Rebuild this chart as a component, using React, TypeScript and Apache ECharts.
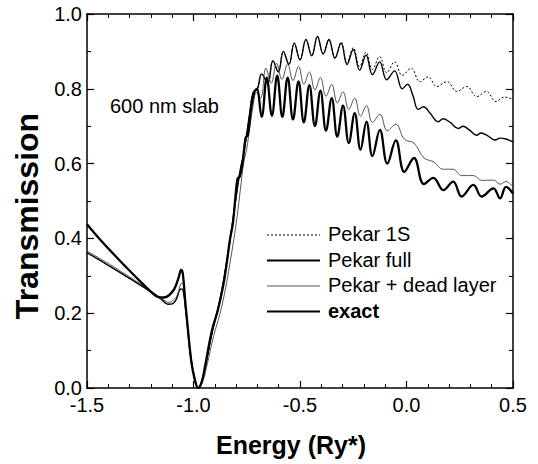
import React, { useEffect, useRef } from "react";
import * as echarts from "echarts";

// Energy (Ry*) and transmission values
const pekar1S_E = [-1.5, -1.4, -1.3, -1.2, -1.15, -1.12, -1.1, -1.08, -1.065, -1.055, -1.035, -1.015, -0.995, -0.978, -0.96, -0.94, -0.91, -0.88, -0.855, -0.835, -0.815, -0.795, -0.78, -0.765, -0.75, -0.735, -0.72, -0.70,
  -0.68, -0.652, -0.627, -0.602, -0.578, -0.552, -0.527, -0.50, -0.472, -0.445, -0.418, -0.391, -0.364, -0.336, -0.307, -0.279, -0.25, -0.22, -0.19, -0.16, -0.126, -0.093, -0.056, -0.02, 0.022, 0.063, 0.102, 0.142, 0.19, 0.236, 0.283, 0.33, 0.375, 0.42, 0.46, 0.5];
const pekar1S_T = [0.362, 0.328, 0.293, 0.257, 0.237, 0.224, 0.225, 0.238, 0.262, 0.265, 0.2, 0.09, 0.025, 0.0, 0.02, 0.07, 0.155, 0.225, 0.3, 0.37, 0.45, 0.53, 0.585, 0.625, 0.68, 0.74, 0.79, 0.8,
  0.84, 0.815, 0.875, 0.845, 0.9, 0.865, 0.922, 0.877, 0.932, 0.888, 0.94, 0.893, 0.932, 0.882, 0.925, 0.87, 0.91, 0.86, 0.898, 0.852, 0.886, 0.843, 0.872, 0.836, 0.855, 0.819, 0.832, 0.806, 0.819, 0.793, 0.806, 0.779, 0.793, 0.766, 0.778, 0.772];

const pekarFull_E = [-1.5, -1.4, -1.3, -1.2, -1.15, -1.12, -1.1, -1.08, -1.065, -1.055, -1.035, -1.015, -0.995, -0.978, -0.96, -0.94, -0.91, -0.88, -0.855, -0.835, -0.815, -0.795, -0.78, -0.765, -0.75, -0.735, -0.72, -0.70,
  -0.68, -0.652, -0.627, -0.602, -0.578, -0.552, -0.527, -0.50, -0.472, -0.445, -0.418, -0.391, -0.364, -0.336, -0.307, -0.279, -0.25, -0.22, -0.19, -0.16, -0.126, -0.093, -0.056, -0.02, 0.005, 0.03, 0.055, 0.08, 0.11, 0.149, 0.172, 0.205, 0.243, 0.265, 0.295, 0.329, 0.35, 0.38, 0.415, 0.44, 0.47, 0.5];
const pekarFull_T = [0.362, 0.328, 0.293, 0.257, 0.237, 0.224, 0.225, 0.238, 0.262, 0.265, 0.2, 0.09, 0.025, 0.0, 0.02, 0.07, 0.155, 0.225, 0.3, 0.37, 0.45, 0.53, 0.585, 0.625, 0.68, 0.74, 0.79, 0.8,
  0.84, 0.815, 0.875, 0.845, 0.9, 0.865, 0.922, 0.877, 0.932, 0.888, 0.94, 0.893, 0.932, 0.882, 0.922, 0.865, 0.905, 0.85, 0.89, 0.838, 0.872, 0.824, 0.848, 0.80, 0.812, 0.782, 0.745, 0.752, 0.735, 0.712, 0.72, 0.71, 0.694, 0.70, 0.69, 0.676, 0.682, 0.675, 0.663, 0.668, 0.665, 0.658];

const deadLayer_E = [-1.5, -1.4, -1.3, -1.2, -1.15, -1.116, -1.095, -1.075, -1.06, -1.05, -1.037, -1.015, -0.995, -0.975, -0.955, -0.935, -0.905, -0.875, -0.85, -0.83, -0.81, -0.795, -0.78, -0.765, -0.75, -0.735, -0.72, -0.705,
  -0.685, -0.66, -0.635, -0.61, -0.585, -0.558, -0.533, -0.507, -0.482, -0.456, -0.43, -0.404, -0.378, -0.351, -0.325, -0.298, -0.271, -0.243, -0.216, -0.188, -0.16, -0.125, -0.09, -0.05, -0.01, 0.035, 0.082, 0.126, 0.173, 0.219, 0.259, 0.314, 0.353, 0.408, 0.439, 0.467, 0.5];
const deadLayer_T = [0.366, 0.333, 0.297, 0.26, 0.24, 0.229, 0.235, 0.25, 0.278, 0.28, 0.21, 0.1, 0.03, 0.0, 0.02, 0.065, 0.14, 0.2, 0.265, 0.33, 0.4, 0.46, 0.53, 0.6, 0.64, 0.7, 0.755, 0.79,
  0.775, 0.855, 0.815, 0.868, 0.825, 0.866, 0.822, 0.86, 0.812, 0.845, 0.797, 0.83, 0.78, 0.812, 0.762, 0.792, 0.745, 0.775, 0.727, 0.755, 0.71, 0.732, 0.688, 0.705, 0.665, 0.655, 0.615, 0.605, 0.585, 0.585, 0.568, 0.568, 0.555, 0.556, 0.545, 0.552, 0.538];

const exact_E = [-1.5, -1.44, -1.35, -1.25, -1.19, -1.165, -1.14, -1.115, -1.09, -1.07, -1.058, -1.05, -1.04, -1.025, -1.01, -0.995, -0.978, -0.962, -0.945, -0.915, -0.885, -0.86, -0.845, -0.828, -0.815, -0.805, -0.793, -0.783, -0.77, -0.755, -0.745, -0.73, -0.715, -0.703,
  -0.68, -0.656, -0.632, -0.607, -0.583, -0.558, -0.533, -0.507, -0.482, -0.456, -0.43, -0.404, -0.378, -0.351, -0.325, -0.298, -0.271, -0.243, -0.216, -0.188, -0.16, -0.125, -0.09, -0.05, -0.01, 0.035, 0.082, 0.126, 0.173, 0.219, 0.259, 0.314, 0.353, 0.408, 0.439, 0.467, 0.5];
const exact_T = [0.438, 0.398, 0.343, 0.285, 0.252, 0.243, 0.242, 0.248, 0.265, 0.295, 0.316, 0.305, 0.24, 0.15, 0.07, 0.025, 0.0, 0.015, 0.06, 0.15, 0.21, 0.275, 0.33, 0.4, 0.44, 0.5, 0.56, 0.565, 0.6, 0.67, 0.675, 0.745, 0.79, 0.80,
  0.725, 0.83, 0.728, 0.835, 0.725, 0.83, 0.718, 0.82, 0.71, 0.81, 0.70, 0.795, 0.688, 0.775, 0.672, 0.755, 0.655, 0.735, 0.637, 0.712, 0.62, 0.69, 0.60, 0.662, 0.578, 0.615, 0.545, 0.562, 0.529, 0.552, 0.512, 0.543, 0.512, 0.534, 0.507, 0.538, 0.52];

const seriesNames = ["Pekar 1S", "Pekar full", "Pekar + dead layer", "exact"];
const FONT = "'Liberation Sans', Arial, Helvetica, sans-serif";

function pairs(e: number[], t: number[]) {
  const n = Math.min(e.length, t.length);
  const out: number[][] = [];
  for (let i = 0; i < n; i++) out.push([e[i], t[i]]);
  return out;
}

export default function App() {
  const ref = useRef<HTMLDivElement>(null);
  useEffect(() => {
    document.body.style.margin = "0";
    const chart = echarts.init(ref.current!, null, { renderer: "svg" });
    const axisCommon = {
      axisLine: { show: true, onZero: false, lineStyle: { color: "#000", width: 1.5 } },
      splitLine: { show: false },
    };
    const tick = { show: true, inside: true, length: 7, lineStyle: { color: "#000", width: 1.2 } };
    const legendStyles = [
      { stroke: "#000", lineWidth: 1, lineDash: [2, 2] },
      { stroke: "#000", lineWidth: 1.8 },
      { stroke: "#555", lineWidth: 1 },
      { stroke: "#000", lineWidth: 2.2 },
    ];
    const legendRows = seriesNames.map((name, i) => {
      const y = 234 + i * 25.5;
      return [
        { type: "line", shape: { x1: 267, y1: y + 1, x2: 320, y2: y + 1 }, style: legendStyles[i] },
        {
          type: "text", x: 328, y, style: {
            text: name, fill: "#000", font: `${i === 3 ? "bold " : ""}20px ${FONT}`,
            verticalAlign: "middle", align: "left",
          },
        },
      ];
    }).flat();
    chart.setOption({
      animation: false,
      grid: { left: 87, right: 25, top: 14, bottom: 76 },
      xAxis: [
        {
          ...axisCommon, type: "value", min: -1.5, max: 0.5, interval: 0.5, position: "bottom",
          axisTick: tick,
          minorTick: { show: true, splitNumber: 5, length: 4, lineStyle: { color: "#000", width: 1 } },
          axisLabel: { color: "#000", fontSize: 20, fontFamily: FONT, margin: 7, formatter: (v: number) => v.toFixed(1) },
        },
        {
          ...axisCommon, type: "value", min: -1.5, max: 0.5, interval: 0.5, position: "top",
          axisTick: tick,
          minorTick: { show: true, splitNumber: 5, length: 4, lineStyle: { color: "#000", width: 1 } },
          axisLabel: { show: false },
        },
      ],
      yAxis: [
        {
          ...axisCommon, type: "value", min: 0, max: 1, interval: 0.2, position: "left",
          axisTick: tick,
          minorTick: { show: true, splitNumber: 2, length: 4, lineStyle: { color: "#000", width: 1 } },
          axisLabel: { color: "#000", fontSize: 20, fontFamily: FONT, margin: 5, formatter: (v: number) => v.toFixed(1) },
        },
        {
          ...axisCommon, type: "value", min: 0, max: 1, interval: 0.2, position: "right",
          axisTick: tick,
          minorTick: { show: true, splitNumber: 2, length: 4, lineStyle: { color: "#000", width: 1 } },
          axisLabel: { show: false },
        },
      ],
      series: [
        { name: seriesNames[0], type: "line", data: pairs(pekar1S_E, pekar1S_T), showSymbol: false, smooth: 0.4, lineStyle: { color: "#000", width: 1, type: [2, 2] } },
        { name: seriesNames[1], type: "line", data: pairs(pekarFull_E, pekarFull_T), showSymbol: false, smooth: 0.4, lineStyle: { color: "#000", width: 1.4 } },
        { name: seriesNames[2], type: "line", data: pairs(deadLayer_E, deadLayer_T), showSymbol: false, smooth: 0.4, lineStyle: { color: "#444", width: 0.9 } },
        { name: seriesNames[3], type: "line", data: pairs(exact_E, exact_T), showSymbol: false, smooth: 0.4, lineStyle: { color: "#000", width: 2.3 } },
      ],
      graphic: [
        { type: "text", x: 110, y: 106, style: { text: "600 nm slab", fill: "#000", font: `20px ${FONT}`, verticalAlign: "middle" } },
        { type: "text", x: 291, y: 445, style: { text: "Energy (Ry*)", fill: "#000", font: `bold 25px ${FONT}`, align: "center", verticalAlign: "middle" } },
        { type: "text", x: 27, y: 216, rotation: Math.PI / 2, style: { text: "Transmission", fill: "#000", font: `bold 32px ${FONT}`, align: "center", verticalAlign: "middle" } },
        ...legendRows,
      ],
    });
    return () => chart.dispose();
  }, []);
  return <div ref={ref} style={{ width: 538, height: 464 }} />;
}
